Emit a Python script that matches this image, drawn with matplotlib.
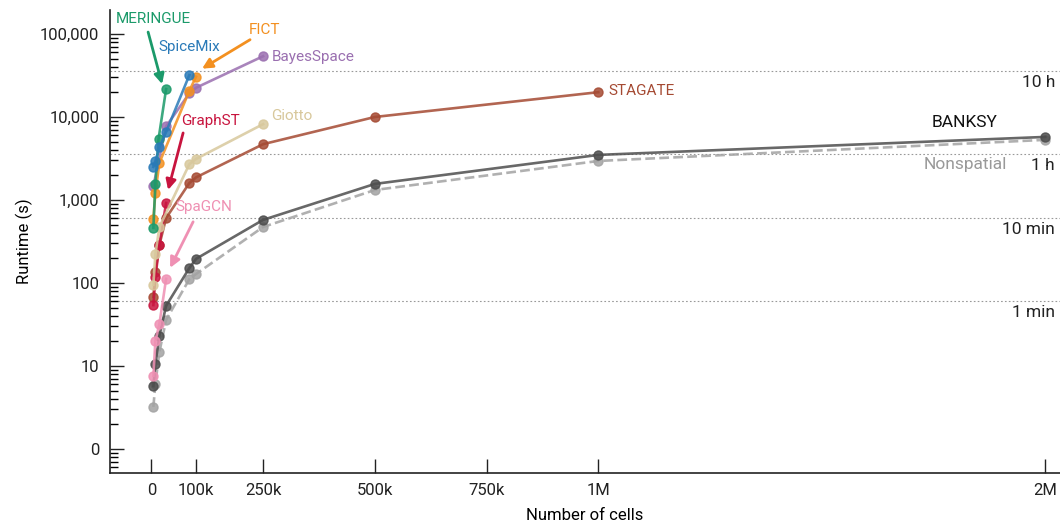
import matplotlib
matplotlib.use('Agg')
import matplotlib.pyplot as plt
from matplotlib.ticker import FixedLocator, LogLocator, NullFormatter

plt.rcParams['font.family'] = ['Roboto', 'DejaVu Sans']

# number of cells for each dataset
cells = [4500, 9000, 18000, 33000, 85000, 100000, 250000, 500000, 1000000, 2000000]

banksy_x = cells
banksy_y = [5.7, 10.6, 23, 53, 151, 195, 575, 1560, 3490, 5750]
nonsp_x = cells
nonsp_y = [3.2, 6.1, 14.7, 35.8, 111, 128, 472, 1318, 2950, 5300]
spagcn_x = [4500, 9000, 18000, 33000]
spagcn_y = [7.6, 20, 32, 112]
graphst_x = [4500, 9000, 18000, 33000]
graphst_y = [54, 118, 288, 920]
stagate_x = [4500, 9000, 18000, 33000, 85000, 100000, 250000, 500000, 1000000]
stagate_y = [68, 135, 288, 605, 1600, 1870, 4700, 10000, 19900]
giotto_x = [4500, 9000, 18000, 85000, 100000, 250000]
giotto_y = [95, 222, 470, 2700, 3120, 8200]
meringue_x = [4500, 9000, 16000, 33000]
meringue_y = [460, 1560, 5400, 21700]
spicemix_x = [4500, 9000, 18000, 33000, 85000]
spicemix_y = [2500, 2950, 4300, 6600, 32000]
fict_x = [4500, 9000, 18000, 85000, 100000]
fict_y = [590, 1210, 2800, 20700, 30600]
bayes_x = [4500, 33000, 85000, 100000, 250000]
bayes_y = [1470, 7700, 19300, 22500, 54000]

ref_times = [60, 600, 3600, 36000]
ref_labels = ['1 min', '10 min', '1 h', '10 h']

yticks = [1, 10, 100, 1000, 10000, 100000]
ytick_labels = ['0', '10', '100', '1,000', '10,000', '100,000']
xticks = [0, 100000, 250000, 500000, 750000, 1000000, 2000000]
xtick_labels = ['0', '100k', '250k', '500k', '750k', '1M', '2M']

fig = plt.figure(figsize=(10.6, 5.28), dpi=100)
ax = fig.add_axes([0.104, 0.104, 0.896, 0.877])
ax.set_yscale('log')
ax.set_xlim(-92000, 2033000)
ax.set_ylim(0.51, 194600)

for t in ref_times:
    ax.axhline(t, color='#999999', linestyle=(0, (1.5, 2)), linewidth=0.8, zorder=1)
for t, lab in zip(ref_times, ref_labels):
    ax.annotate(lab, xy=(1, t), xycoords=('axes fraction', 'data'),
                xytext=(-5, -4), textcoords='offset pixels',
                ha='right', va='top', fontsize=12.5, color='#222222')

mk = dict(marker='o', markersize=6.5, linewidth=1.9, alpha=0.85, zorder=3)

series = [
    (nonsp_x, nonsp_y, '#a3a3a3', '--'),
    (banksy_x, banksy_y, '#4d4d4d', '-'),
    (spagcn_x, spagcn_y, '#ef90b3', '-'),
    (stagate_x, stagate_y, '#a54a33', '-'),
    (graphst_x, graphst_y, '#c8143e', '-'),
    (giotto_x, giotto_y, '#d8c89c', '-'),
    (bayes_x, bayes_y, '#9a6fb0', '-'),
    (fict_x, fict_y, '#f39020', '-'),
    (meringue_x, meringue_y, '#1b9a6a', '-'),
    (spicemix_x, spicemix_y, '#2a7ab8', '-'),
]
for xs, ys, c, ls in series:
    ax.plot(xs, ys, color=c, linestyle=ls, **mk)

def label(txt, xs, ys, c, dx, dy, ha='center', size=11):
    ax.annotate(txt, xy=(xs[-1], ys[-1]), xytext=(dx, dy), textcoords='offset pixels',
                ha=ha, va='center', fontsize=size, color=c)

def arrow(xs, ys, c, tail, head):
    pt = ax.transData.transform((xs[-1], ys[-1]))
    inv = ax.transData.inverted()
    t = inv.transform((pt[0] + tail[0], pt[1] + tail[1]))
    h = inv.transform((pt[0] + head[0], pt[1] + head[1]))
    ax.annotate('', xy=h, xytext=t,
                arrowprops=dict(arrowstyle='-|>,head_width=0.3,head_length=0.6',
                                color=c, lw=2, shrinkA=0, shrinkB=0), zorder=4)

label('MERINGUE', meringue_x, meringue_y, '#1b9a6a', -13, 70)
arrow(meringue_x, meringue_y, '#1b9a6a', (-18, 57), (-4, 5))
label('SpiceMix', spicemix_x, spicemix_y, '#2a7ab8', 0, 28)
label('FICT', fict_x, fict_y, '#f39020', 68, 47)
arrow(fict_x, fict_y, '#f39020', (54, 37), (6, 8))
label('BayesSpace', bayes_x, bayes_y, '#9a6fb0', 9, -1, ha='left')
label('GraphST', graphst_x, graphst_y, '#c8143e', 44, 82)
arrow(graphst_x, graphst_y, '#c8143e', (17, 70), (2, 13))
label('Giotto', giotto_x, giotto_y, '#d8c89c', 8, 8, ha='left')
label('STAGATE', stagate_x, stagate_y, '#a54a33', 10, 1, ha='left')
label('SpaGCN', spagcn_x, spagcn_y, '#ef90b3', 38, 72)
arrow(spagcn_x, spagcn_y, '#ef90b3', (27, 57), (4, 11))
label('BANKSY', banksy_x, banksy_y, '#111111', -81, 14, size=12.5)
label('Nonspatial', nonsp_x, nonsp_y, '#999999', -80, -25, size=12.5)

ax.yaxis.set_major_locator(FixedLocator(yticks))
ax.set_yticklabels(ytick_labels)
ax.yaxis.set_minor_locator(LogLocator(base=10, subs=range(2, 10)))
ax.yaxis.set_minor_formatter(NullFormatter())
ax.set_xticks(xticks)
ax.set_xticklabels(xtick_labels)
ax.tick_params(axis='both', which='major', direction='in', length=10, width=1,
               labelsize=12, colors='#222222')
ax.tick_params(axis='y', which='minor', direction='in', length=6, width=1)
ax.tick_params(axis='y', pad=8)
ax.tick_params(axis='x', pad=7)

for s in ['top', 'right']:
    ax.spines[s].set_visible(False)
for s in ['left', 'bottom']:
    ax.spines[s].set_linewidth(1.2)
    ax.spines[s].set_color('#222222')

ax.set_xlabel('Number of cells', fontsize=12, labelpad=7)
ax.set_ylabel('Runtime (s)', fontsize=12, labelpad=5)

fig.savefig('out.png', dpi=100)
plt.close()
